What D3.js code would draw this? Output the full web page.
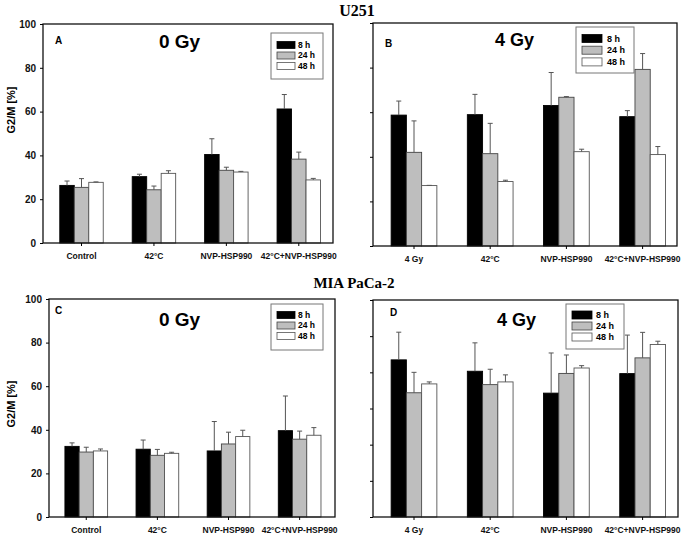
<!DOCTYPE html>
<html>
<head>
<meta charset="utf-8">
<script src="https://cdn.jsdelivr.net/npm/d3@7"></script>
<style>
body { margin: 0; background: #fff; }
text { font-family: "Liberation Sans", Arial, sans-serif; font-weight: bold; }
</style>
</head>
<body>
<svg id="fig" width="685" height="540"></svg>
<script>
// ---------------- data ----------------
var groupsLeft  = ["Control", "42°C", "NVP-HSP990", "42°C+NVP-HSP990"];
var groupsRight = ["4 Gy", "42°C", "NVP-HSP990", "42°C+NVP-HSP990"];
var times = ["8 h", "24 h", "48 h"];
var yTicks  = [0, 20, 40, 60, 80, 100];
var yTicksD = [0, 20, 40, 60, 80, 100, 120];

// rows: 8 h, 24 h, 48 h ; columns: groups
var u251_0gy    = [[26.3, 30.3, 40.4, 61.2], [25.4, 24.3, 33.2, 38.3], [27.7, 31.8, 32.4, 28.8]];
var u251_0gy_sd = [[2.0, 1.1, 7.2, 6.6], [4.0, 1.7, 1.4, 3.2], [0.2, 1.2, 0.3, 0.7]];

var u251_4gy    = [[58.7, 58.9, 63.0, 58.0], [42.0, 41.4, 66.7, 79.2], [27.1, 28.9, 42.3, 41.0]];
var u251_4gy_sd = [[6.3, 9.1, 14.8, 2.7], [14.1, 13.6, 0.3, 7.1], [0.1, 0.6, 1.1, 3.6]];

var mia_0gy    = [[32.4, 31.1, 30.3, 39.6], [29.8, 28.3, 33.5, 35.7], [30.3, 29.2, 36.9, 37.5]];
var mia_0gy_sd = [[1.6, 4.2, 13.5, 15.9], [2.2, 2.7, 5.4, 3.7], [0.9, 0.5, 2.9, 3.5]];

var mia_4gy    = [[86.9, 80.6, 68.5, 79.3], [68.7, 73.2, 79.4, 88.0], [73.6, 74.7, 82.4, 95.4]];
var mia_4gy_sd = [[15.3, 15.7, 22.2, 21.3], [11.3, 8.5, 10.2, 14.1], [1.1, 3.9, 1.3, 1.8]];

// ---------------- layout ----------------
var fills   = ["#000000", "#bebebe", "#ffffff"];
var strokes = ["#000000", "#444444", "#555555"];

var panels = [
    {letter: "A", title: "0 Gy", groups: groupsLeft, mean: u251_0gy, sd: u251_0gy_sd, ticks: yTicks, labels: true,
     l: 43, t: 24, r: 333, b: 243, xr: [45.3, 335], titleX: 159, titleY: 48, titleSize: 19, letX: 55, letY: 43.5,
     leg: {x: 271, y: 33, w: 52, h: 46, sx: 6, sw: 18, sh: 7, r0: 12, dr: 10.5, tx: 27, fs: 8.5}},
    {letter: "B", title: "4 Gy", groups: groupsRight, mean: u251_4gy, sd: u251_4gy_sd, ticks: yTicks, labels: false,
     l: 373, t: 23, r: 677, b: 246, xr: [375.9, 680.7], titleX: 495, titleY: 46, titleSize: 18, letX: 385, letY: 46.7,
     leg: {x: 576, y: 27, w: 58, h: 46, sx: 6, sw: 20, sh: 8, r0: 11.5, dr: 11.7, tx: 31, fs: 9}},
    {letter: "C", title: "0 Gy", groups: groupsLeft, mean: mia_0gy, sd: mia_0gy_sd, ticks: yTicks, labels: true,
     l: 49, t: 299, r: 335, b: 517, xr: [50.7, 335.2], titleX: 159, titleY: 326, titleSize: 19, letX: 55, letY: 313.5,
     leg: {x: 271, y: 304, w: 52, h: 46, sx: 6, sw: 18, sh: 7, r0: 11, dr: 10.5, tx: 27, fs: 8.5}},
    {letter: "D", title: "4 Gy", groups: groupsRight, mean: mia_4gy, sd: mia_4gy_sd, ticks: yTicksD, labels: false,
     l: 373, t: 300, r: 678, b: 517, xr: [375.9, 680.7], titleX: 497, titleY: 326, titleSize: 18, letX: 390, letY: 316,
     leg: {x: 566, y: 304, w: 58, h: 45, sx: 6, sw: 20, sh: 8, r0: 11, dr: 11, tx: 30, fs: 9}}
];

var svg = d3.select("#fig");

// section titles
svg.append("text").attr("x", 357).attr("y", 16).attr("text-anchor", "middle")
    .style("font-family", "'Liberation Serif', 'Times New Roman', serif").attr("font-size", 16)
    .text("U251");
svg.append("text").attr("x", 354).attr("y", 288).attr("text-anchor", "middle")
    .style("font-family", "'Liberation Serif', 'Times New Roman', serif").attr("font-size", 15)
    .text("MIA PaCa-2");

panels.forEach(function(p){
    var g = svg.append("g");
    var ymax = p.ticks[p.ticks.length - 1];

    var y = d3.scaleLinear().domain([0, ymax]).range([p.b, p.t]);
    var x0 = d3.scaleBand().domain(p.groups).range(p.xr).paddingInner(0.4).paddingOuter(0.2);
    var x1 = d3.scaleBand().domain(times).range([0, x0.bandwidth()]);

    // bars
    times.forEach(function(tm, s){
        var rows = p.groups.map(function(grp, i){
            return {grp: grp, v: p.mean[s][i], e: p.sd[s][i]};
        });
        g.selectAll("rect.bar" + s)
            .data(rows)
            .enter()
            .append("rect")
            .attr("x", function(d){ return x0(d.grp) + x1(tm); })
            .attr("y", function(d){ return y(d.v); })
            .attr("width", x1.bandwidth())
            .attr("height", function(d){ return y(0) - y(d.v); })
            .attr("fill", fills[s])
            .attr("stroke", strokes[s])
            .attr("stroke-width", 0.9);

        // error bars (upper only)
        var cx = function(d){ return x0(d.grp) + x1(tm) + x1.bandwidth() / 2; };
        g.selectAll("line.err" + s)
            .data(rows)
            .enter()
            .append("line")
            .attr("x1", cx).attr("x2", cx)
            .attr("y1", function(d){ return y(d.v); })
            .attr("y2", function(d){ return y(d.v + d.e); })
            .attr("stroke", "#555").attr("stroke-width", 1);
        g.selectAll("line.cap" + s)
            .data(rows)
            .enter()
            .append("line")
            .attr("x1", function(d){ return cx(d) - 2.5; })
            .attr("x2", function(d){ return cx(d) + 2.5; })
            .attr("y1", function(d){ return y(d.v + d.e); })
            .attr("y2", function(d){ return y(d.v + d.e); })
            .attr("stroke", "#555").attr("stroke-width", 1);
    });

    // frame
    g.append("rect")
        .attr("x", p.l).attr("y", p.t)
        .attr("width", p.r - p.l).attr("height", p.b - p.t)
        .attr("fill", "none").attr("stroke", "#111").attr("stroke-width", 1.3);

    // axes
    var yAxis = d3.axisLeft(y).tickValues(p.ticks).tickSize(3).tickPadding(4)
        .tickFormat(p.labels ? d3.format("d") : function(){ return ""; });
    var ya = g.append("g").attr("transform", "translate(" + p.l + ",0)").call(yAxis);
    ya.select(".domain").remove();
    ya.selectAll("text").attr("font-size", 10).attr("fill", "#111").style("font-family", null);

    var xAxis = d3.axisBottom(x0).tickSize(3).tickPadding(6.5);
    var xa = g.append("g").attr("transform", "translate(0," + p.b + ")").call(xAxis);
    xa.select(".domain").remove();
    xa.selectAll("text").attr("font-size", 8.5).attr("fill", "#111").style("font-family", null);

    // panel letter and title
    g.append("text").attr("x", p.letX).attr("y", p.letY).attr("font-size", 10).text(p.letter);
    g.append("text").attr("x", p.titleX).attr("y", p.titleY).attr("font-size", p.titleSize).text(p.title);

    // legend
    var L = p.leg;
    var lg = g.append("g").attr("transform", "translate(" + L.x + "," + L.y + ")");
    lg.append("rect").attr("width", L.w).attr("height", L.h)
        .attr("fill", "#fff").attr("stroke", "#777").attr("stroke-width", 1);
    times.forEach(function(tm, s){
        var cy = L.r0 + s * L.dr;
        lg.append("rect").attr("x", L.sx).attr("y", cy - L.sh / 2)
            .attr("width", L.sw).attr("height", L.sh)
            .attr("fill", fills[s]).attr("stroke", strokes[s]).attr("stroke-width", 0.8);
        lg.append("text").attr("x", L.tx).attr("y", cy).attr("dy", "0.35em")
            .attr("font-size", L.fs).text(tm);
    });

    // y label on the left panels
    if (p.labels) {
        g.append("text")
            .attr("transform", "translate(15," + (p.letter === "A" ? 110 : 404) + ") rotate(-90)")
            .attr("text-anchor", "middle").attr("font-size", 11).text("G2/M [%]");
    }
});
</script>
</body>
</html>
